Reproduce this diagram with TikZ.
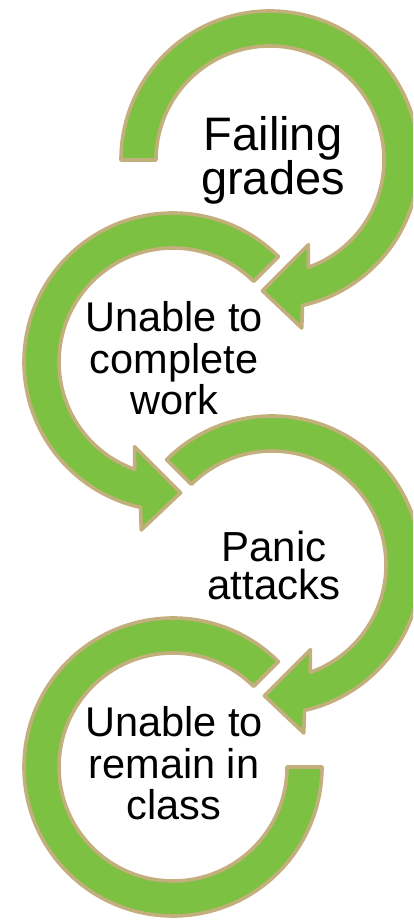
\documentclass[tikz,border=0pt]{standalone}
\usepackage{fontspec}
\setmainfont{Liberation Sans}
\usetikzlibrary{calc}
\definecolor{ringgreen}{HTML}{7CC142}
\definecolor{ringtan}{HTML}{C2AF7B}
\tikzset{
  ring/.style={fill=ringgreen, draw=ringtan, line width=3.6pt, line join=round},
  lbl/.style={align=center, anchor=base, text=black, inner sep=0pt}
}
\def\ro{149}
\def\ri{114}
\begin{document}
\begin{tikzpicture}[x=1pt,y=1pt]
\useasboundingbox (0,0) rectangle (413,921);
\clip (0,0) rectangle (413,921);
% centres
\coordinate (c1) at (270,761);
\coordinate (c2) at (173,559);
\coordinate (c3) at (272,356);
\coordinate (c4) at (173,154);
% ring 1 (clockwise, from 180 deg)
\draw[ring] ($(c1)+(180:\ro)$) arc[start angle=180, end angle=-77.4, radius=\ro]
  -- ($(c1)+(-79.3:171)$) -- ($(c1)+(-93.3:131)$) -- ($(c1)+(-65.6:93)$)
  -- ($(c1)+(-70.4:\ri)$) arc[start angle=-70.4, end angle=180, radius=\ri] -- cycle;
% ring 2 (counter-clockwise, from 45 deg)
\draw[ring] ($(c2)+(45:\ro)$) arc[start angle=45, end angle=257.4, radius=\ro]
  -- ($(c2)+(259.3:171)$) -- ($(c2)+(273.3:131)$) -- ($(c2)+(245.6:93)$)
  -- ($(c2)+(250.4:\ri)$) arc[start angle=250.4, end angle=45, radius=\ri] -- cycle;
% ring 3 (clockwise, from 135 deg)
\draw[ring] ($(c3)+(135:\ro)$) arc[start angle=135, end angle=-77.4, radius=\ro]
  -- ($(c3)+(-79.3:171)$) -- ($(c3)+(-93.3:131)$) -- ($(c3)+(-65.6:93)$)
  -- ($(c3)+(-70.4:\ri)$) arc[start angle=-70.4, end angle=135, radius=\ri] -- cycle;
% ring 4 (counter-clockwise, from 45 deg to 360 deg, no head)
\draw[ring] ($(c4)+(45:\ro)$) arc[start angle=45, end angle=360, radius=\ro]
  -- ($(c4)+(0:\ri)$) arc[start angle=360, end angle=45, radius=\ri] -- cycle;
% labels (anchor = baseline of last line)
\node[lbl, font=\fontsize{47}{43}\selectfont] (t1) at (273,726) {Failing\\grades};
\node[lbl, font=\fontsize{41.5}{41.5}\selectfont] (t2) at (174,506) {Unable to\\complete\\work};
\node[lbl, font=\fontsize{42}{38.5}\selectfont] (t3) at (274,321) {Panic\\attacks};
\node[lbl, font=\fontsize{41.5}{41.5}\selectfont] (t4) at (174,101) {Unable to\\remain in\\class};
\end{tikzpicture}
\end{document}
